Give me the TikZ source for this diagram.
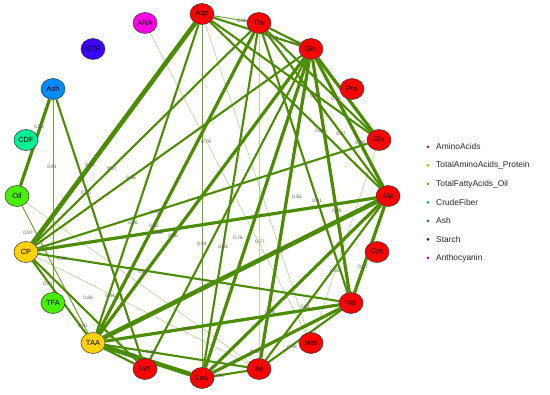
\documentclass[tikz,border=0pt]{standalone}
\usepackage{fontspec}
\setmainfont{Liberation Sans}
\usetikzlibrary{shapes.geometric}
\definecolor{ecol}{RGB}{76,140,0}
\definecolor{cAA}{RGB}{255,0,0}
\definecolor{cTAA}{RGB}{255,210,0}
\definecolor{cOil}{RGB}{70,240,0}
\definecolor{cCDF}{RGB}{0,240,150}
\definecolor{cAsh}{RGB}{0,140,255}
\definecolor{cSTR}{RGB}{60,0,255}
\definecolor{cANA}{RGB}{255,0,230}
\definecolor{dAA}{RGB}{180,20,30}
\definecolor{dTAA}{RGB}{200,175,0}
\definecolor{dOil}{RGB}{80,190,0}
\definecolor{dCDF}{RGB}{0,170,110}
\definecolor{dAsh}{RGB}{30,110,170}
\definecolor{dSTR}{RGB}{60,0,160}
\definecolor{dANA}{RGB}{180,0,160}
\pgfdeclarelayer{bg}
\pgfsetlayers{bg,main}
\begin{document}
\begin{tikzpicture}[x=1pt,y=-1pt,
  vtx/.style={ellipse,draw=black!80,line width=0.5pt,minimum width=24pt,minimum height=21pt,inner sep=0pt,text=black,font=\fontsize{7.5}{7.5}\selectfont},
  ef/.style={draw=ecol,line width=0.7pt,opacity=0.35},
  et/.style={draw=ecol,line width=1pt,opacity=0.8},
  em/.style={draw=ecol,line width=2.1pt},
  ek/.style={draw=ecol,line width=3.2pt},
  ex/.style={draw=ecol,line width=4.6pt},
  lab/.style={font=\fontsize{4.8}{4.8}\selectfont,text=black!65,inner sep=0pt},
  ldot/.style={circle,inner sep=0pt,minimum size=3pt},
  ltxt/.style={anchor=west,font=\fontsize{8.4}{8.4}\selectfont,text=black!85,inner sep=0pt}
]
\useasboundingbox (0,0) rectangle (550,395);
% vertices
\node[vtx,fill=cAA] (Asp) at (202,14) {Asp};
\node[vtx,fill=cAA] (Thr) at (259,23) {Thr};
\node[vtx,fill=cAA] (Glu) at (311,49) {Glu};
\node[vtx,fill=cAA] (Pro) at (352,89) {Pro};
\node[vtx,fill=cAA] (Gly) at (379,140) {Gly};
\node[vtx,fill=cAA] (Ala) at (388,196) {Ala};
\node[vtx,fill=cAA] (Cys) at (377,252) {Cys};
\node[vtx,fill=cAA] (Val) at (351,303) {Val};
\node[vtx,fill=cAA] (Met) at (311,343) {Met};
\node[vtx,fill=cAA] (Ile) at (259,369) {Ile};
\node[vtx,fill=cAA] (Leu) at (202,378) {Leu};
\node[vtx,fill=cAA] (Lys) at (145,369) {Lys};
\node[vtx,fill=cTAA] (TAA) at (93,343) {TAA};
\node[vtx,fill=cOil] (TFA) at (53,303) {TFA};
\node[vtx,fill=cTAA] (CP) at (26,252) {CP};
\node[vtx,fill=cOil] (Oil) at (17,196) {Oil};
\node[vtx,fill=cCDF] (CDF) at (26,140) {CDF};
\node[vtx,fill=cAsh] (Ash) at (53,89) {Ash};
\node[vtx,fill=cSTR] (STR) at (93,49) {STR};
\node[vtx,fill=cANA] (ANA) at (145,23) {ANA};
% edges
\begin{pgfonlayer}{bg}
\draw[et] (Asp) -- (Thr);
\draw[em] (Asp) -- (Glu);
\draw[em] (Asp) -- (Gly);
\draw[em] (Asp) -- (Ala);
\draw[ef] (Asp) -- (Met);
\draw[et] (Asp) -- (Leu);
\draw[em] (Asp) -- (TAA);
\draw[ex] (Asp) -- (CP);
\draw[em] (Thr) -- (Glu);
\draw[em] (Thr) -- (Gly);
\draw[em] (Thr) -- (Ala);
\draw[em] (Thr) -- (Val);
\draw[ef] (Thr) -- (Ile);
\draw[em] (Thr) -- (Leu);
\draw[ek] (Thr) -- (TAA);
\draw[em] (Thr) -- (CP);
\draw[ek] (Glu) -- (Gly);
\draw[ek] (Glu) -- (Ala);
\draw[ek] (Glu) -- (Val);
\draw[ek] (Glu) -- (Ile);
\draw[ek] (Glu) -- (Leu);
\draw[em] (Glu) -- (Lys);
\draw[ek] (Glu) -- (TAA);
\draw[em] (Glu) -- (CP);
\draw[em] (Gly) -- (CP);
\draw[ef] (Gly) -- (Met);
\draw[ek] (Ala) -- (Val);
\draw[em] (Ala) -- (Ile);
\draw[ek] (Ala) -- (Leu);
\draw[ex] (Ala) -- (TAA);
\draw[ek] (Ala) -- (CP);
\draw[em] (Val) -- (Ile);
\draw[ek] (Val) -- (Leu);
\draw[ek] (Val) -- (TAA);
\draw[em] (Val) -- (CP);
\draw[em] (Ile) -- (Leu);
\draw[em] (Ile) -- (TAA);
\draw[ef] (Ile) -- (Oil);
\draw[ef] (Ile) -- (CP);
\draw[ex] (Leu) -- (TAA);
\draw[em] (Lys) -- (Ash);
\draw[em] (Lys) -- (TAA);
\draw[em] (Lys) -- (CP);
\draw[em] (TAA) -- (CP);
\draw[et] (TAA) -- (Oil);
\draw[ek] (Ash) -- (Oil);
\draw[et] (Ash) -- (TFA);
\draw[ef] (ANA) -- (Met);
\end{pgfonlayer}
% edge labels
\node[lab] (l1) at (242,21) {0.86};
\node[lab] (l2) at (273,38) {0.84};
\node[lab] (l3) at (295,43) {0.89};
\node[lab] (l4) at (315,96) {0.86};
\node[lab] (l5) at (336,99) {0.88};
\node[lab] (l6) at (320,131) {0.88};
\node[lab] (l7) at (341,134) {0.87};
\node[lab] (l8) at (360,143) {0.88};
\node[lab] (l9) at (206,142) {0.79};
\node[lab] (l10) at (297,197) {0.82};
\node[lab] (l11) at (317,201) {0.91};
\node[lab] (l12) at (337,211) {0.85};
\node[lab] (l13) at (202,244) {0.84};
\node[lab] (l14) at (223,247) {0.85};
\node[lab] (l15) at (238,238) {0.76};
\node[lab] (l16) at (260,242) {0.77};
\node[lab] (l17) at (278,252) {0.88};
\node[lab] (l18) at (335,271) {0.85};
\node[lab] (l19) at (363,267) {0.87};
\node[lab] (l20) at (270,312) {0.86};
\node[lab] (l21) at (305,307) {0.81};
\node[lab] (l22) at (292,347) {0.93};
\node[lab] (l23) at (255,352) {0.82};
\node[lab] (l24) at (219,376) {0.93};
\node[lab] (l25) at (39,127) {0.83};
\node[lab] (l26) at (52,167) {0.81};
\node[lab] (l27) at (90,165) {0.88};
\node[lab] (l28) at (112,169) {0.87};
\node[lab] (l29) at (131,178) {0.86};
\node[lab] (l30) at (86,193) {0.85};
\node[lab] (l31) at (155,212) {0.92};
\node[lab] (l32) at (133,223) {0.86};
\node[lab] (l33) at (154,226) {0.82};
\node[lab] (l34) at (158,233) {0.88};
\node[lab] (l35) at (173,236) {0.86};
\node[lab] (l36) at (28,233) {0.87};
\node[lab] (l37) at (62,259) {0.88};
\node[lab] (l38) at (143,272) {0.84};
\node[lab] (l39) at (48,284) {0.87};
\node[lab] (l40) at (88,298) {0.88};
\node[lab] (l41) at (110,296) {0.84};
\node[lab] (l42) at (83,326) {0.81};
\node[lab] (l43) at (187,329) {0.87};
\node[lab] (l44) at (130,355) {0.96};
\node[lab] (l45) at (151,352) {0.96};
% legend
\node[ldot,fill=dAA] (d1) at (428,147) {};
\node[ltxt] (t1) at (436,147) {AminoAcids};
\node[ldot,fill=dTAA] (d2) at (428,165.5) {};
\node[ltxt] (t2) at (436,165.5) {TotalAminoAcids\_Protein};
\node[ldot,fill=dOil] (d3) at (428,184) {};
\node[ltxt] (t3) at (436,184) {TotalFattyAcids\_Oil};
\node[ldot,fill=dCDF] (d4) at (428,202.5) {};
\node[ltxt] (t4) at (436,202.5) {CrudeFiber};
\node[ldot,fill=dAsh] (d5) at (428,221) {};
\node[ltxt] (t5) at (436,221) {Ash};
\node[ldot,fill=dSTR] (d6) at (428,239.5) {};
\node[ltxt] (t6) at (436,239.5) {Starch};
\node[ldot,fill=dANA] (d7) at (428,258) {};
\node[ltxt] (t7) at (436,258) {Anthocyanin};
\end{tikzpicture}
\end{document}
